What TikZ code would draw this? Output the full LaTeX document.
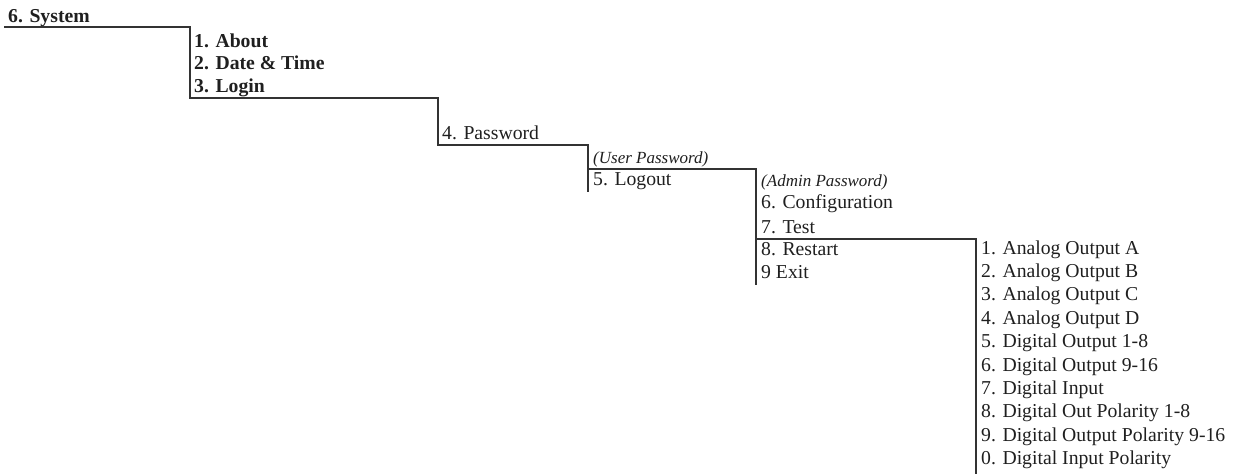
\documentclass[tikz,border=0pt]{standalone}
\usepackage{fontspec}
\setmainfont{Liberation Serif}
\begin{document}
\begin{tikzpicture}[x=1pt,y=-1pt,
  item/.style={anchor=base west,inner sep=0pt,text=black!88,font=\fontsize{19.7}{23}\selectfont},
  bitem/.style={item,font=\fontsize{19.7}{23}\selectfont\bfseries},
  note/.style={item,font=\fontsize{17}{20}\selectfont\itshape},
  tree/.style={draw=black!80,line width=1.8pt}]
\useasboundingbox (0,0) rectangle (1239,474);
% level 0
\node[bitem] (sys) at (8,22) {6. System};
% level 1
\node[bitem] (about) at (194,47) {1. About};
\node[bitem] (date) at (194,69) {2. Date \& Time};
\node[bitem] (login) at (194,92) {3. Login};
% level 2
\node[item] (pwd) at (442,139) {4. Password};
% level 3
\node[note] (upwd) at (593,163) {(User Password)};
\node[item] (logout) at (593,185) {5. Logout};
% level 4
\node[note] (apwd) at (761,186) {(Admin Password)};
\node[item] (conf) at (761,208) {6. Configuration};
\node[item] (test) at (761,233) {7. Test};
\node[item] (restart) at (761,255) {8. Restart};
\node[item] (exit) at (761,278) {9 Exit};
% level 5
\foreach \t [count=\i from 0] in {1. Analog Output A,2. Analog Output B,3. Analog Output C,4. Analog Output D,5. Digital Output 1-8,6. Digital Output 9-16,7. Digital Input,8. Digital Out Polarity 1-8,9. Digital Output Polarity 9-16,0. Digital Input Polarity}
  \node[item] (t\i) at (981,254+23.4*\i) {\t};
% connector corners
\coordinate (a0) at (4,27);
\coordinate (a1) at (190,27);
\coordinate (a2) at (190,98);
\coordinate (a3) at (438,98);
\coordinate (a4) at (438,145);
\coordinate (a5) at (588,145);
\coordinate (a6) at (588,192);
\coordinate (b0) at (588,169);
\coordinate (b1) at (756,169);
\coordinate (b2) at (756,285);
\coordinate (c0) at (756,239);
\coordinate (c1) at (976,239);
\coordinate (c2) at (976,474);
\draw[tree] (a0) -- (a1) -- (a2) -- (a3) -- (a4) -- (a5) -- (a6);
\draw[tree] (b0) -- (b1) -- (b2);
\draw[tree] (c0) -- (c1) -- (c2);
\end{tikzpicture}
\end{document}
